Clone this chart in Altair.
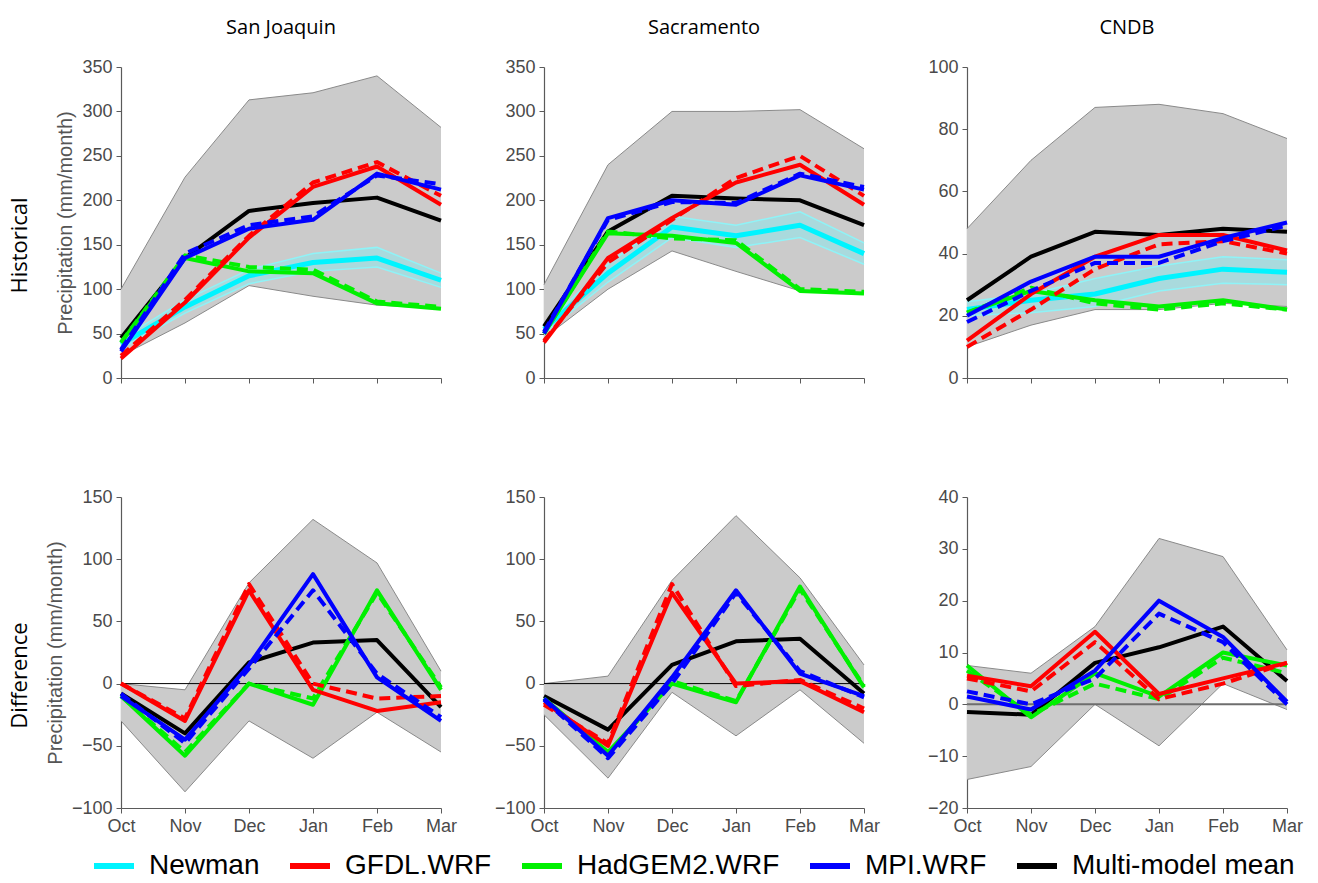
import altair as alt
import pandas as pd

MONTHS = ["Oct", "Nov", "Dec", "Jan", "Feb", "Mar"]
MODELS = ["Newman", "GFDL.WRF", "HadGEM2.WRF", "MPI.WRF", "Multi-model mean"]
COLORS = ["#00f4ff", "#ff0000", "#00f000", "#0000ff", "#000000"]
TITLES = ["San Joaquin", "Sacramento", "CNDB"]
ROW_LABELS = ["Historical", "Difference"]

SJ_HIST = dict(
    env_hi=[100, 226, 313, 321, 340, 282],
    env_lo=[25, 62, 104, 92, 82, 78],
    newman=[38, 80, 115, 130, 135, 110],
    newman_hi=[44, 88, 122, 140, 147, 118],
    newman_lo=[33, 73, 106, 120, 125, 102],
    gfdl=[22, 85, 158, 215, 238, 195],
    gfdl_d=[25, 88, 160, 220, 243, 205],
    had=[40, 135, 120, 118, 84, 78],
    had_d=[40, 138, 125, 122, 86, 80],
    mpi=[30, 135, 168, 178, 230, 212],
    mpi_d=[32, 140, 172, 182, 228, 218],
    mmm=[45, 135, 188, 197, 203, 177],
)
SAC_HIST = dict(
    env_hi=[105, 240, 300, 300, 302, 258],
    env_lo=[45, 100, 143, 120, 98, 95],
    newman=[55, 118, 170, 160, 172, 140],
    newman_hi=[60, 128, 182, 172, 187, 152],
    newman_lo=[50, 108, 158, 147, 158, 128],
    gfdl=[40, 135, 180, 220, 240, 195],
    gfdl_d=[42, 130, 178, 225, 250, 205],
    had=[50, 163, 160, 152, 98, 95],
    had_d=[50, 165, 157, 155, 100, 97],
    mpi=[50, 180, 200, 195, 228, 212],
    mpi_d=[52, 178, 198, 197, 230, 215],
    mmm=[58, 165, 205, 202, 200, 172],
)
CNDB_HIST = dict(
    env_hi=[48, 70, 87, 88, 85, 77],
    env_lo=[10, 17, 22, 22, 24, 23],
    newman=[22, 25, 27, 32, 35, 34],
    newman_hi=[24.5, 27, 32, 36, 39, 38],
    newman_lo=[20, 21, 23, 28, 30.5, 30],
    gfdl=[12, 27, 39, 46, 46, 41],
    gfdl_d=[10, 22, 35, 43, 44, 40],
    had=[21, 28, 25, 23, 25, 22],
    had_d=[21, 29, 24, 22, 24, 22],
    mpi=[20, 31, 39, 39, 45, 50],
    mpi_d=[18, 28, 37, 37, 44, 49],
    mmm=[25, 39, 47, 46, 48, 47],
)
SJ_DIFF = dict(
    env_hi=[0, -5, 81, 132, 97, 10],
    env_lo=[-30, -87, -30, -60, -23, -55],
    gfdl=[0, -30, 75, -5, -22, -15],
    gfdl_d=[0, -28, 80, 0, -12, -10],
    had=[-10, -58, 0, -17, 75, -5],
    had_d=[-10, -55, 0, -12, 73, -3],
    mpi=[-10, -45, 15, 88, 5, -30],
    mpi_d=[-8, -48, 12, 75, 8, -27],
    mmm=[-8, -40, 17, 33, 35, -19],
)
SAC_DIFF = dict(
    env_hi=[0, 6, 83, 135, 85, 15],
    env_lo=[-25, -76, -7, -42, -5, -48],
    gfdl=[-15, -50, 73, 0, 2, -23],
    gfdl_d=[-17, -48, 80, -2, 3, -20],
    had=[-12, -55, 0, -15, 78, -3],
    had_d=[-12, -57, 2, -14, 76, -2],
    mpi=[-12, -58, 5, 75, 8, -10],
    mpi_d=[-13, -60, 0, 73, 10, -11],
    mmm=[-10, -37, 15, 34, 36, -8],
)
CNDB_DIFF = dict(
    env_hi=[7.5, 6, 15, 32, 28.5, 10.5],
    env_lo=[-14.5, -12, 0, -8, 4, -1],
    gfdl=[5.5, 3.5, 14, 2, 5, 8],
    gfdl_d=[5, 2.5, 12, 1, 4, 8],
    had=[7.5, -2.5, 6, 1.5, 10, 7.5],
    had_d=[6.5, -2, 4, 1, 9, 6],
    mpi=[1.5, -1, 6.5, 20, 13, 0.5],
    mpi_d=[2.5, 0, 5, 17.5, 12, 0],
    mmm=[-1.5, -2, 8, 11, 15, 4.5],
)

HIST_TICKS_BIG = [0, 50, 100, 150, 200, 250, 300, 350]
HIST_TICKS_SMALL = [0, 20, 40, 60, 80, 100]
DIFF_TICKS_BIG = [-100, -50, 0, 50, 100, 150]
DIFF_TICKS_SMALL = [-20, -10, 0, 10, 20, 30, 40]

W, H = 320, 311
color_scale = alt.Scale(domain=MODELS, range=COLORS)
legend_def = alt.Legend(
    orient="none", legendX=-30, legendY=776, direction="horizontal", columns=5,
    title=None, symbolType="stroke", symbolSize=1600, symbolStrokeWidth=6,
    labelFontSize=28, labelFont="Liberation Sans", labelColor="black",
    columnPadding=18, labelOffset=12, labelLimit=400, symbolOpacity=1, padding=0,
)


def panel(d, ydom, yticks, title=None, xlabels=False, ytitle=None,
          rowlabel=None, zero=None, legend=False):
    df = pd.DataFrame({"month": MONTHS, **d})
    base = alt.Chart(df)
    x = alt.X("month:N", sort=MONTHS, scale=alt.Scale(type="point", padding=0),
              axis=alt.Axis(title=None, labelAngle=0, labels=xlabels))
    yscale = alt.Scale(domain=ydom, nice=False, zero=False)
    yaxis = alt.Axis(values=yticks, title=ytitle if ytitle else None)

    def Y(col):
        return alt.Y(f"{col}:Q", scale=yscale, axis=yaxis)

    layers = [
        base.mark_area(color="#cbcbcb").encode(x=x, y=Y("env_lo"), y2="env_hi:Q"),
        base.mark_line(color="#8a8a8a", strokeWidth=1).encode(x=x, y=Y("env_hi")),
        base.mark_line(color="#8a8a8a", strokeWidth=1).encode(x=x, y=Y("env_lo")),
    ]
    if zero is not None:
        zdf = pd.DataFrame({"z": [0]})
        layers.append(alt.Chart(zdf).mark_rule(color=zero[0], strokeWidth=zero[1])
                      .encode(y=alt.Y("z:Q", scale=yscale, axis=yaxis)))

    def line(col, model, width, dash=None, show_legend=False):
        kw = dict(strokeWidth=width, strokeCap="butt", strokeJoin="round")
        if dash:
            kw["strokeDash"] = dash
        return (base.transform_calculate(model=f"'{model}'")
                .mark_line(**kw)
                .encode(x=x, y=Y(col),
                        color=alt.Color("model:N", scale=color_scale,
                                        legend=legend_def if show_legend else None)))

    if "newman" in d:
        layers += [
            base.mark_area(color="#a9dadd").encode(x=x, y=Y("newman_lo"), y2="newman_hi:Q"),
            base.mark_line(color="#8ff3f7", strokeWidth=1.5).encode(x=x, y=Y("newman_hi")),
            base.mark_line(color="#8ff3f7", strokeWidth=1.5).encode(x=x, y=Y("newman_lo")),
            line("newman", "Newman", 5, show_legend=legend),
        ]
    dash = [11, 6]
    layers += [
        line("mmm", "Multi-model mean", 4),
        line("had", "HadGEM2.WRF", 4),
        line("had_d", "HadGEM2.WRF", 4, dash),
        line("gfdl", "GFDL.WRF", 4),
        line("gfdl_d", "GFDL.WRF", 4, dash),
        line("mpi", "MPI.WRF", 4),
        line("mpi_d", "MPI.WRF", 4, dash),
    ]
    if rowlabel:
        tdf = pd.DataFrame({"t": [rowlabel]})
        layers.append(alt.Chart(tdf).mark_text(angle=270, font="Open Sans", fontSize=22,
                                               color="black")
                      .encode(text="t:N", x=alt.value(-101), y=alt.value(H / 2 + 23)))
    ch = alt.layer(*layers).properties(width=W, height=H)
    if title:
        ch = ch.properties(title=alt.TitleParams(title, font="Open Sans", fontSize=20,
                                                 fontWeight="normal", color="black",
                                                 offset=20, frame="group", anchor="middle"))
    return ch


YT = "Precipitation (mm/month)"
panels = [
    panel(SJ_HIST, [0, 350], HIST_TICKS_BIG, TITLES[0], ytitle=YT,
          rowlabel=ROW_LABELS[0], legend=True),
    panel(SAC_HIST, [0, 350], HIST_TICKS_BIG, TITLES[1]),
    panel(CNDB_HIST, [0, 100], HIST_TICKS_SMALL, TITLES[2]),
    panel(SJ_DIFF, [-100, 150], DIFF_TICKS_BIG, xlabels=True, ytitle=YT,
          rowlabel=ROW_LABELS[1], zero=("black", 1)),
    panel(SAC_DIFF, [-100, 150], DIFF_TICKS_BIG, xlabels=True, zero=("black", 1)),
    panel(CNDB_DIFF, [-20, 40], DIFF_TICKS_SMALL, xlabels=True, zero=("#6e6e6e", 2)),
]

chart = alt.concat(*panels, columns=3, spacing={"row": 83, "column": 37},
                   align="all").properties(
    padding={"left": 9, "top": 18, "right": 5, "bottom": 0}
).resolve_scale(y="independent", x="independent").configure_view(stroke=None).configure_axis(
    domainColor="#5a5a5a", tickColor="#5a5a5a", labelColor="#4a4a4a",
    labelFont="Liberation Sans", labelFontSize=18, titleFont="Liberation Sans",
    titleFontSize=20, titleColor="#555555", titleFontWeight="normal", grid=False,
    tickSize=5, labelPadding=4, domainWidth=1.2, titlePadding=6,
)

chart.save("out.html", embed_options={"renderer": "svg", "actions": False})
